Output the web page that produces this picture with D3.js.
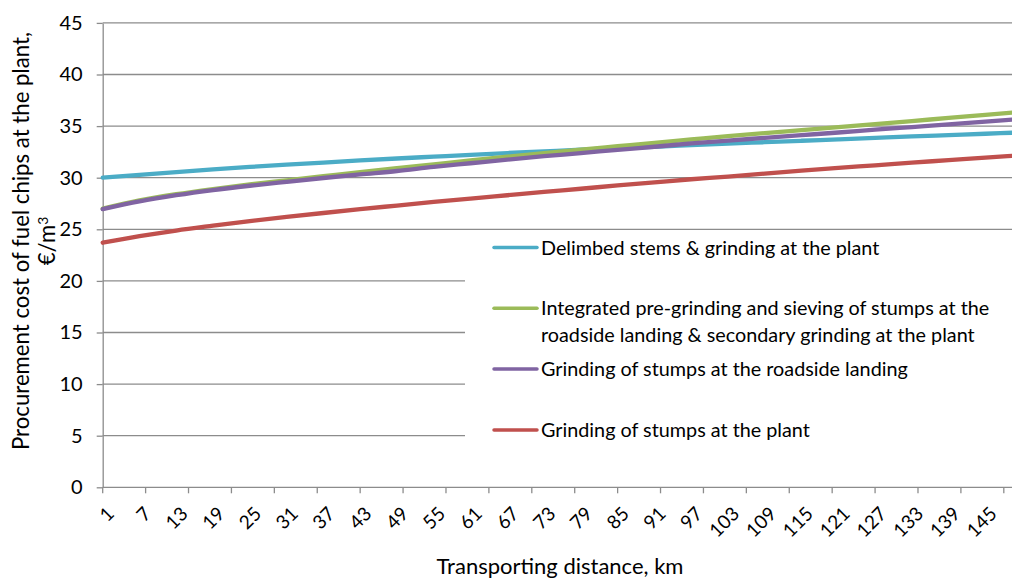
<!DOCTYPE html>
<html>
<head>
<meta charset="utf-8">
<script src="https://cdn.jsdelivr.net/npm/d3@7/dist/d3.min.js"></script>
<style>
  html, body { margin: 0; padding: 0; background: #fff; }
  svg { display: block; font-family: Lato, "Open Sans", sans-serif; }
</style>
</head>
<body>
<svg id="chart" width="1012" height="581"></svg>
<script>
// ---- data ----
const distances = [1, 7, 13, 19, 25, 31, 37, 43, 49, 55, 61, 67, 73, 79, 85, 91, 97, 103, 109, 115, 121, 127, 133, 139, 145, 150];
const delimbedStems = [30.00, 30.28, 30.55, 30.80, 31.04, 31.26, 31.47, 31.67, 31.86, 32.04, 32.22, 32.39, 32.55, 32.71, 32.86, 33.00, 33.15, 33.30, 33.44, 33.58, 33.72, 33.86, 34.00, 34.13, 34.26, 34.37];
const integratedPreGrinding = [27.00, 27.80, 28.40, 28.90, 29.35, 29.75, 30.15, 30.55, 30.93, 31.30, 31.67, 32.03, 32.38, 32.72, 33.05, 33.38, 33.70, 34.02, 34.32, 34.61, 34.90, 35.20, 35.49, 35.79, 36.08, 36.33];
const grindingRoadside = [26.95, 27.70, 28.30, 28.80, 29.22, 29.60, 29.97, 30.32, 30.65, 31.05, 31.40, 31.75, 32.08, 32.38, 32.70, 33.00, 33.32, 33.60, 33.86, 34.12, 34.38, 34.65, 34.91, 35.17, 35.44, 35.66];
const grindingPlant = [23.70, 24.33, 24.88, 25.35, 25.80, 26.20, 26.58, 26.95, 27.30, 27.65, 27.98, 28.30, 28.62, 28.93, 29.25, 29.55, 29.85, 30.10, 30.40, 30.68, 30.95, 31.20, 31.46, 31.70, 31.95, 32.15];
const seriesNames = [
  "Delimbed stems & grinding at the plant",
  "Integrated pre-grinding and sieving of stumps at the roadside landing & secondary grinding at the plant",
  "Grinding of stumps at the roadside landing",
  "Grinding of stumps at the plant"
];
const seriesColors = ["#4BACC6", "#9BBB59", "#8064A2", "#C0504D"];
const xTickLabels = d3.range(1, 146, 6);      // 1, 7, ..., 145
const xTickMarks = d3.range(1, 150, 7);       // tick marks every 7 km
const yTicks = [0, 5, 10, 15, 20, 25, 30, 35, 40, 45];
const xTitle = "Transporting distance, km";
const yTitleLine1 = "Procurement cost of fuel chips  at the plant,";

const allSeries = [delimbedStems, integratedPreGrinding, grindingRoadside, grindingPlant];

// ---- layout ----
const W = 1012, H = 581;
const plotLeft = 102.7, plotTop = 22.9, plotBottom = 487.3;
const x = d3.scaleLinear().domain([1, 150]).range([plotLeft, plotLeft + 149 * 6.13]);
const y = d3.scaleLinear().domain([0, 45]).range([plotBottom, plotTop]);

const svg = d3.select("#chart");
const gridColor = "#8c8c8c";

// gridlines
svg.append("g").selectAll("line").data(yTicks.filter(d => d > 0)).join("line")
  .attr("x1", plotLeft).attr("x2", W)
  .attr("y1", d => y(d)).attr("y2", d => y(d))
  .attr("stroke", gridColor).attr("stroke-width", 1.3);

// y axis
const yAxis = d3.axisLeft(y).tickValues(yTicks).tickSize(6).tickPadding(14).tickSizeOuter(0);
const gy = svg.append("g").attr("transform", `translate(${plotLeft},0)`).call(yAxis);
gy.select(".domain").attr("stroke", gridColor).attr("stroke-width", 1.3);
gy.selectAll(".tick line").attr("stroke", gridColor).attr("stroke-width", 1.3);
gy.selectAll(".tick text").attr("font-size", 20).attr("fill", "#000").attr("font-family", "Lato");

// x axis
const gx = svg.append("g").attr("transform", `translate(0,${plotBottom})`);
gx.append("line").attr("x1", plotLeft).attr("x2", W).attr("y1", 0).attr("y2", 0)
  .attr("stroke", gridColor).attr("stroke-width", 1.3);
gx.selectAll("line.tm").data(xTickMarks).join("line").attr("class", "tm")
  .attr("x1", d => x(d)).attr("x2", d => x(d)).attr("y1", 0).attr("y2", 6)
  .attr("stroke", gridColor).attr("stroke-width", 1.3);
gx.selectAll("text").data(xTickLabels).join("text")
  .attr("transform", d => `translate(${x(d) + 8},${23}) rotate(-45)`)
  .attr("text-anchor", "end")
  .attr("dy", "0.35em")
  .attr("font-size", 19)
  .attr("fill", "#000")
  .text(d => d);

// lines
const line = d3.line().x((d, i) => x(distances[i])).y(d => y(d)).curve(d3.curveMonotoneX);
svg.append("g").selectAll("path").data(allSeries).join("path")
  .attr("d", d => line(d))
  .attr("fill", "none")
  .attr("stroke", (d, i) => seriesColors[i])
  .attr("stroke-width", 4.3)
  .attr("stroke-linecap", "round");

// legend
const lg = svg.append("g");
lg.append("rect").attr("x", 465).attr("y", 232).attr("width", W - 465).attr("height", 215).attr("fill", "#fff");
const legendRows = [
  { i: 0, y: 247.5, lines: [seriesNames[0]] },
  { i: 1, y: 308.3, lines: ["Integrated pre-grinding and sieving of stumps at the", "roadside landing & secondary grinding at the plant"] },
  { i: 2, y: 369, lines: [seriesNames[2]] },
  { i: 3, y: 430, lines: [seriesNames[3]] }
];
legendRows.forEach(r => {
  lg.append("line").attr("x1", 494).attr("x2", 537).attr("y1", r.y).attr("y2", r.y)
    .attr("stroke", seriesColors[r.i]).attr("stroke-width", 3.5).attr("stroke-linecap", "round");
  const t = lg.append("text").attr("x", 541).attr("y", r.y).attr("font-size", 19.8).attr("fill", "#000");
  r.lines.forEach((s, k) => t.append("tspan").attr("x", 541).attr("y", r.y + k * 26.7).attr("dy", "0.36em").text(s));
});

// axis titles
svg.append("text").attr("x", 560).attr("y", 574).attr("text-anchor", "middle")
  .attr("font-size", 22).attr("fill", "#000").text(xTitle);
const yt = svg.append("text").attr("transform", "translate(21,241) rotate(-90)")
  .attr("text-anchor", "middle").attr("font-size", 22.2).attr("fill", "#000");
yt.append("tspan").attr("x", 0).attr("y", 0).attr("dy", "0.35em").text(yTitleLine1);
const yt2 = yt.append("tspan").attr("x", 0).attr("y", 26).attr("dy", "0.35em").text("€/m");
yt2.append("tspan").attr("dy", "-0.5em").attr("font-size", 14).text("3");
</script>
</body>
</html>
